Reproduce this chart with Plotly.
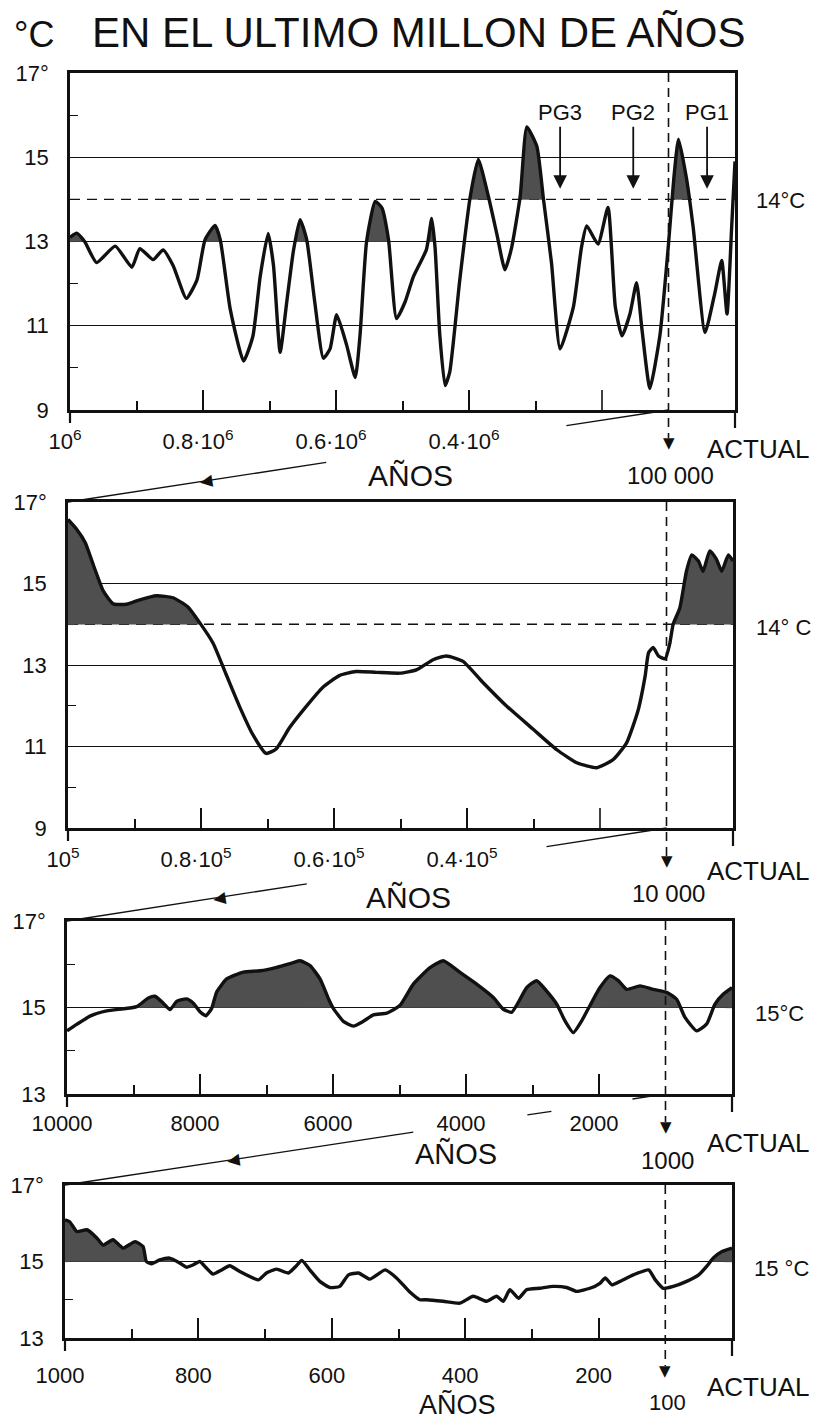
import math
import plotly.graph_objects as go

PAGE_W, PAGE_H = 820, 1419
OFF = 8  # browser default body margin
W, H = PAGE_W - OFF, PAGE_H - OFF
FONT = "Liberation Sans, Arial, sans-serif"
INK = "#111111"
SHADE = "#4f4f4f"

# ---------------- data (years before present, temperature °C) ----------------
p1_years = [1000000, 990000, 978000, 960000, 932000, 907000, 895000, 875000, 860000, 845000,
            825000, 809000, 797000, 782000, 774000, 759000, 739000, 725000, 714000, 702000,
            694000, 684000, 674000, 664000, 654000, 644000, 632000, 619000, 609000, 599000,
            584000, 571000, 564000, 554000, 541000, 531000, 521000, 509000, 496000, 484000,
            464000, 456000, 451000, 444000, 436000, 429000, 414000, 398000, 386000, 371000,
            358000, 346000, 336000, 323000, 313000, 298000, 288000, 276000, 263000, 243000,
            231000, 223000, 206000, 191000, 180000, 170000, 158000, 148000, 140000, 128000,
            113000, 100000, 92000, 85000, 73000, 63000, 45000, 30000, 20000, 12000,
            5000, 0]
p1_temp = [13.1, 13.2, 13.0, 12.5, 12.89, 12.39, 12.83, 12.57, 12.8, 12.43,
           11.65, 12.09, 13.04, 13.38, 13.04, 11.39, 10.16, 10.75, 12.17, 13.19,
           12.43, 10.37, 11.57, 12.78, 13.52, 13.04, 11.57, 10.23, 10.45, 11.26,
           10.54, 9.77, 10.75, 13.0, 13.95, 13.8, 13.04, 11.17, 11.57, 12.15,
           12.81, 13.55, 12.85, 10.8, 9.58, 9.9, 12.07, 14.08, 14.95, 14.08,
           13.17, 12.33, 12.85, 14.08, 15.72, 15.26, 14.0, 12.5, 10.45, 11.45,
           12.85, 13.37, 12.94, 13.81, 11.45, 10.76, 11.28, 12.02, 10.93, 9.51,
           10.76, 12.94, 14.5, 15.43, 14.5, 13.35, 10.84, 11.8, 12.55, 11.28,
           13.35, 14.9]

p2_years = [100000, 98700, 97400, 96200, 94700, 93200, 91200, 89200, 86700, 84200,
            82000, 80200, 78200, 76200, 74200, 72200, 70200, 68700, 66700, 64200,
            61700, 59200, 56700, 53600, 50100, 47600, 45100, 43100, 40600, 37600,
            34100, 30100, 26500, 23500, 20500, 18000, 16000, 14300, 13200, 12700,
            12000, 11200, 10200, 9500, 9000, 8000, 7000, 6200, 5200, 4500,
            3500, 2500, 1700, 700, 0]
p2_temp = [16.57, 16.33, 16.0, 15.46, 14.82, 14.5, 14.49, 14.6, 14.7, 14.65,
           14.43, 14.04, 13.54, 12.76, 11.98, 11.29, 10.83, 10.94, 11.46, 11.98,
           12.45, 12.74, 12.84, 12.82, 12.8, 12.88, 13.13, 13.22, 13.09, 12.57,
           12.0, 11.43, 10.92, 10.6, 10.48, 10.68, 11.09, 11.87, 12.74, 13.3,
           13.43, 13.22, 13.15, 13.53, 14.0, 14.4, 15.3, 15.7, 15.55, 15.3,
           15.8, 15.6, 15.3, 15.7, 15.55]

p3_years = [10000, 9855, 9654, 9403, 9153, 8952, 8777, 8677, 8552, 8451,
            8351, 8201, 8100, 8000, 7910, 7825, 7749, 7599, 7348, 7098,
            6847, 6597, 6496, 6346, 6195, 6070, 5995, 5845, 5694, 5544,
            5393, 5193, 4992, 4792, 4541, 4341, 4090, 3840, 3589, 3439,
            3313, 3213, 3088, 2937, 2787, 2636, 2511, 2386, 2261, 2110,
            1985, 1835, 1709, 1584, 1383, 1183, 982, 832, 707, 531,
            380, 256, 130, 0]
p3_temp = [14.46, 14.61, 14.8, 14.92, 14.97, 15.02, 15.22, 15.26, 15.1, 14.95,
           15.14, 15.2, 15.1, 14.9, 14.81, 14.98, 15.36, 15.66, 15.82, 15.85,
           15.93, 16.04, 16.08, 15.97, 15.66, 15.21, 14.98, 14.68, 14.57, 14.68,
           14.83, 14.87, 15.05, 15.54, 15.92, 16.08, 15.81, 15.54, 15.23, 14.96,
           14.89, 15.12, 15.46, 15.62, 15.38, 15.08, 14.69, 14.42, 14.69, 15.12,
           15.46, 15.73, 15.62, 15.42, 15.5, 15.42, 15.35, 15.19, 14.77, 14.46,
           14.62, 15.08, 15.31, 15.46]

p4_years = [1000, 993, 982, 967, 952, 943, 928, 913, 895, 883,
            878, 870, 858, 843, 828, 818, 808, 798, 788, 778,
            765, 753, 738, 710, 698, 683, 665, 653, 645, 633,
            618, 603, 588, 575, 560, 543, 520, 503, 483, 468,
            458, 433, 408, 388, 368, 353, 343, 333, 320, 308,
            288, 268, 248, 233, 213, 198, 190, 180, 168, 148,
            125, 115, 103, 88, 68, 50, 38, 28, 15, 0]
p4_temp = [16.09, 16.04, 15.78, 15.83, 15.61, 15.43, 15.57, 15.35, 15.52, 15.39,
           15.0, 14.94, 15.04, 15.09, 14.96, 14.85, 14.91, 15.0, 14.83, 14.67,
           14.78, 14.89, 14.74, 14.52, 14.7, 14.8, 14.7, 14.89, 15.03, 14.78,
           14.48, 14.32, 14.35, 14.65, 14.7, 14.54, 14.78, 14.57, 14.2, 14.0,
           14.0, 13.96, 13.91, 14.09, 13.96, 14.09, 13.96, 14.26, 14.04, 14.26,
           14.3, 14.35, 14.32, 14.22, 14.3, 14.43, 14.57, 14.39, 14.48, 14.65,
           14.78, 14.52, 14.3, 14.35, 14.48, 14.65, 14.87, 15.09, 15.26, 15.35]

# axis ticks / labels
p1_tickvals = [1000000, 800000, 600000, 400000]
p1_ticktext = ["10<sup>6</sup>", "0.8·10<sup>6</sup>", "0.6·10<sup>6</sup>", "0.4·10<sup>6</sup>"]
p1_minor = [900000, 700000, 500000, 300000]
p2_tickvals = [100000, 80000, 60000, 40000]
p2_ticktext = ["10<sup>5</sup>", "0.8·10<sup>5</sup>", "0.6·10<sup>5</sup>", "0.4·10<sup>5</sup>"]
p2_minor = [90000, 70000, 50000, 30000]
p3_tickvals = [10000, 8000, 6000, 4000, 2000]
p3_ticktext = ["10000", "8000", "6000", "4000", "2000"]
p3_minor = [9000, 7000, 5000, 3000]
p4_tickvals = [1000, 800, 600, 400, 200]
p4_ticktext = ["1000", "800", "600", "400", "200"]
p4_minor = [900, 700, 500, 300]
unlabeled_major = [200000, 20000, None, None]

# zoom markers (where next panel starts) and their labels
markers = [100000, 10000, 1000, 100]
marker_text = ["100 000", "10 000", "1000", "100"]
ref_text = ["14°C", "14° C", "15°C", "15 °C"]
ref_level = [14, 14, 15, 15]

# PG markers on first panel
pg_labels = ["PG3", "PG2", "PG1"]
pg_years = [263000, 153000, 42000]

# ---------------- layout geometry (page pixels) ----------------
boxes = [(70, 735, 73, 410), (68, 733, 502, 828), (67, 732, 921, 1094), (65, 732, 1185, 1338)]
yranges = [(9, 17), (9, 17), (13, 17), (13, 17)]
label_standoff = [10, 10, 8, 16]
marker_label_pos = [(475, 24), (893, 24), (1160, 24), (1402, 22)]
anos_pos = [(410, 476, 30), (408, 897, 30), (456, 1153, 29), (457, 1404, 27)]


def fx(px):
    return (px - OFF) / W


def fy(py):
    return 1 - (py - OFF) / H


def shade_polygons(xs, ys, basefn):
    pts = []
    for i in range(len(xs)):
        x, y = xs[i], ys[i]
        if i > 0:
            x0, y0 = xs[i - 1], ys[i - 1]
            b0, b1 = basefn(x0), basefn(x)
            if b0 == b1:
                d0, d1 = y0 - b0, y - b1
                if d0 * d1 < 0:
                    f = d0 / (d0 - d1)
                    pts.append((x0 + f * (x - x0), b0))
        pts.append((x, y))
    runs, run = [], []
    for x, y in pts:
        if y >= basefn(x) - 1e-9:
            run.append((x, y))
        else:
            if len(run) >= 2:
                runs.append(run)
            run = []
    if len(run) >= 2:
        runs.append(run)
    px, py = [], []
    for r in runs:
        rx = [p[0] for p in r]
        ry = [p[1] for p in r]
        px += rx + rx[::-1] + [rx[0], None]
        py += ry + [basefn(x) for x in rx[::-1]] + [ry[0], None]
    return px, py


panels = [
    dict(x=p1_years, y=p1_temp, base=lambda v: 13 if v > 440000 else 14,
         tv=p1_tickvals, tt=p1_ticktext, mn=p1_minor, ymn=[10, 12, 16], grid=[9, 11, 13, 15, 17]),
    dict(x=p2_years, y=p2_temp, base=lambda v: 14,
         tv=p2_tickvals, tt=p2_ticktext, mn=p2_minor, ymn=[10, 12], grid=[9, 11, 13, 15, 17]),
    dict(x=p3_years, y=p3_temp, base=lambda v: 15,
         tv=p3_tickvals, tt=p3_ticktext, mn=p3_minor, ymn=[14, 16], grid=[13, 15, 17]),
    dict(x=p4_years, y=p4_temp, base=lambda v: 15,
         tv=p4_tickvals, tt=p4_ticktext, mn=p4_minor, ymn=[14], grid=[13, 15, 17]),
]

fig = go.Figure()
layout = dict(width=W, height=H, margin=dict(l=0, r=0, t=0, b=0, autoexpand=False),
              paper_bgcolor="white", plot_bgcolor="white", showlegend=False,
              font=dict(family=FONT, color=INK))
shapes, annotations = [], []

for i, p in enumerate(panels):
    k = "" if i == 0 else str(i + 1)
    L, R, T, B = boxes[i]
    xmax = p["x"][0]
    y0, y1 = yranges[i]
    # shaded warm periods
    sx, sy = shade_polygons(p["x"], p["y"], p["base"])
    fig.add_trace(go.Scatter(x=sx, y=sy, mode="lines", fill="toself", fillcolor=SHADE,
                             line=dict(width=0.5, color=SHADE, shape="spline", smoothing=0.5),
                             hoverinfo="skip", xaxis="x" + k, yaxis="y" + k))
    fig.add_trace(go.Scatter(x=p["x"], y=p["y"], mode="lines",
                             line=dict(color=INK, width=3.4, shape="spline", smoothing=0.5),
                             xaxis="x" + k, yaxis="y" + k))
    layout["xaxis" + k] = dict(
        domain=[fx(L), fx(R)], range=[xmax, 0], anchor="y" + k, automargin=False,
        showline=True, linecolor=INK, linewidth=2.6, mirror=True,
        showgrid=False, zeroline=False,
        ticks="inside", ticklen=20, tickwidth=1.6, tickcolor=INK,
        tickmode="array", tickvals=p["tv"], ticktext=p["tt"],
        tickfont=dict(size=22, family=FONT, color=INK),
        ticklabelstandoff=label_standoff[i], ticklabelshift=5,
        minor=dict(tickmode="array", tickvals=p["mn"], ticks="inside", ticklen=9,
                   tickwidth=1.6, tickcolor=INK, showgrid=False),
    )
    ylabels = [("17°" if v == 17 else str(v)) for v in p["grid"]]
    layout["yaxis" + k] = dict(
        domain=[fy(B), fy(T)], range=[y0, y1], anchor="x" + k, automargin=False,
        showline=True, linecolor=INK, linewidth=2.6, mirror=True,
        showgrid=True, gridcolor=INK, gridwidth=1.1, zeroline=False,
        ticks="", tickmode="array", tickvals=p["grid"], ticktext=ylabels,
        tickfont=dict(size=22, family=FONT, color=INK), ticklabelstandoff=14,
        minor=dict(tickmode="array", tickvals=p["ymn"], ticks="inside", ticklen=8,
                   tickwidth=1.4, tickcolor=INK, showgrid=False),
    )
    # unlabeled long tick
    if unlabeled_major[i] is not None:
        shapes.append(dict(type="line", xref="x" + k, yref="paper",
                           x0=unlabeled_major[i], x1=unlabeled_major[i],
                           y0=fy(B), y1=fy(B - 20), line=dict(color=INK, width=1.6)))
    # dashed reference level (14 °C) in the first two panels
    if ref_level[i] == 14:
        shapes.append(dict(type="line", xref="x" + k, yref="y" + k, x0=xmax, x1=0,
                           y0=14, y1=14, layer="below",
                           line=dict(color=INK, width=1.4, dash="10px,7px")))
    # frame extensions below the axis
    shapes.append(dict(type="line", xref="paper", yref="paper", x0=fx(L), x1=fx(L),
                       y0=fy(B), y1=fy(B + 13), line=dict(color=INK, width=2.2)))
    shapes.append(dict(type="line", xref="paper", yref="paper", x0=fx(R), x1=fx(R),
                       y0=fy(B), y1=fy(B + 18), line=dict(color=INK, width=2.2)))
    # vertical dashed marker with arrow
    m = markers[i]
    mx = L + (xmax - m) / xmax * (R - L)
    shapes.append(dict(type="line", xref="x" + k, yref="paper", x0=m, x1=m,
                       y0=fy(T), y1=fy(B + 28), line=dict(color=INK, width=1.6, dash="9px,6px")))
    annotations.append(dict(xref="x" + k, yref="paper", x=m, y=fy(B + 33), text="▼",
                            showarrow=False, xanchor="center", yanchor="middle",
                            font=dict(size=15, family="DejaVu Sans", color=INK)))
    my, msz = marker_label_pos[i]
    annotations.append(dict(xref="paper", yref="paper", x=fx(mx + 2), y=fy(my),
                            text=marker_text[i], showarrow=False, xanchor="center", yanchor="middle",
                            font=dict(size=msz, family=FONT, color=INK)))
    # ACTUAL / AÑOS / reference temperature labels
    act_y = [449, 871, 1143, 1387][i]
    annotations.append(dict(xref="paper", yref="paper", x=fx(705), y=fy(act_y), text="ACTUAL",
                            showarrow=False, xanchor="left", yanchor="middle",
                            font=dict(size=26, family=FONT, color=INK)))
    ax_, ay_, asz = anos_pos[i]
    annotations.append(dict(xref="paper", yref="paper", x=fx(ax_), y=fy(ay_), text="AÑOS",
                            showarrow=False, xanchor="center", yanchor="middle",
                            font=dict(size=asz, family=FONT, color=INK)))
    rl = [(754, 200), (754, 627), (753, 1014), (752, 1268)][i]
    annotations.append(dict(xref="paper", yref="paper", x=fx(rl[0]), y=fy(rl[1]), text=ref_text[i],
                            showarrow=False, xanchor="left", yanchor="middle",
                            font=dict(size=22, family=FONT, color=INK)))
    # connector line to the next panel
    if i < 3:
        L2, R2, T2, B2 = boxes[i + 1]
        P0 = (mx, B)
        P1 = (L2, T2)
        vis = [[(0.0, 0.17), (0.57, 1.0)],
               [(0.0, 0.2), (0.6, 1.0)],
               [(0.01, 0.055), (0.19, 0.23), (0.42, 1.0)]][i]
        for a, b in vis:
            xa = P0[0] + a * (P1[0] - P0[0]); ya = P0[1] + a * (P1[1] - P0[1])
            xb = P0[0] + b * (P1[0] - P0[0]); yb = P0[1] + b * (P1[1] - P0[1])
            shapes.append(dict(type="line", xref="paper", yref="paper", x0=fx(xa), y0=fy(ya),
                               x1=fx(xb), y1=fy(yb), line=dict(color=INK, width=1.3)))
        s = [0.77, 0.745, 0.72][i]
        tx = P0[0] + s * (P1[0] - P0[0]); ty = P0[1] + s * (P1[1] - P0[1])
        dx, dy = P1[0] - P0[0], P1[1] - P0[1]
        ang = math.degrees(math.atan2(dy, -dx))
        annotations.append(dict(xref="paper", yref="paper", x=fx(tx), y=fy(ty), text="◀",
                                showarrow=False, xanchor="center", yanchor="middle",
                                textangle=-ang,
                                font=dict(size=16, family="DejaVu Sans", color=INK)))

# PG arrows
for lab, yr in zip(pg_labels, pg_years):
    annotations.append(dict(xref="x", yref="y", x=yr, y=14.25, text=lab, showarrow=True,
                            ax=0, ay=-76, arrowhead=2, arrowsize=1.5, arrowwidth=1.8,
                            arrowcolor=INK, standoff=0, font=dict(size=22, family=FONT, color=INK)))

# title
annotations.append(dict(xref="paper", yref="paper", x=fx(12), y=fy(34), text="°C", showarrow=False,
                        xanchor="left", yanchor="middle", font=dict(size=36, family=FONT, color=INK)))
annotations.append(dict(xref="paper", yref="paper", x=fx(418), y=fy(33),
                        text="EN EL ULTIMO MILLON DE AÑOS", showarrow=False,
                        xanchor="center", yanchor="middle", font=dict(size=42, family=FONT, color=INK)))

layout["shapes"] = shapes
layout["annotations"] = annotations
fig.update_layout(**layout)
fig.write_html("out.html")
